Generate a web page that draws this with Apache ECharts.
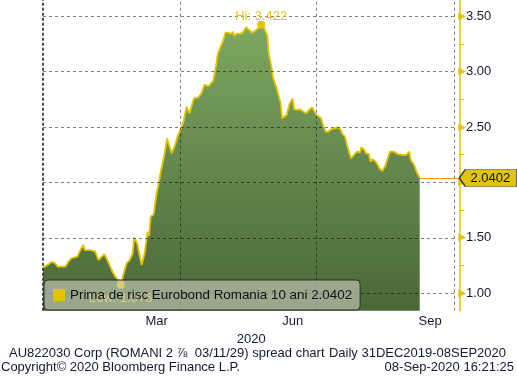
<!DOCTYPE html>
<html>
<head>
<meta charset="utf-8">
<script src="https://cdn.jsdelivr.net/npm/echarts@6/dist/echarts.min.js"></script>
<style>
  html, body { margin: 0; padding: 0; background: #fff; }
  #chart { width: 517px; height: 377px; }
</style>
</head>
<body>
<div id="chart"></div>
<script>
// daily spread
var dates = ['2019-12-31','2020-01-04','2020-01-06','2020-01-08','2020-01-10','2020-01-15','2020-01-17','2020-01-19',
  '2020-01-23','2020-01-25','2020-01-27','2020-01-28','2020-02-01','2020-02-04','2020-02-06','2020-02-07','2020-02-10',
  '2020-02-12','2020-02-15','2020-02-17','2020-02-19','2020-02-21','2020-02-23','2020-02-25','2020-02-27','2020-02-29',
  '2020-03-01','2020-03-03','2020-03-05','2020-03-06','2020-03-08','2020-03-10','2020-03-11','2020-03-12','2020-03-14',
  '2020-03-16','2020-03-17','2020-03-19','2020-03-21','2020-03-23','2020-03-26','2020-03-28','2020-03-30','2020-04-01',
  '2020-04-03','2020-04-05','2020-04-07','2020-04-10','2020-04-13','2020-04-15','2020-04-17','2020-04-20','2020-04-23',
  '2020-04-25','2020-04-26','2020-04-27','2020-04-29','2020-04-30','2020-05-01','2020-05-03','2020-05-05','2020-05-06',
  '2020-05-07','2020-05-09','2020-05-11','2020-05-13','2020-05-15','2020-05-17','2020-05-19','2020-05-21','2020-05-23',
  '2020-05-25','2020-05-27','2020-05-29','2020-05-30','2020-06-01','2020-06-02','2020-06-04','2020-06-07','2020-06-08',
  '2020-06-09','2020-06-11','2020-06-13','2020-06-15','2020-06-16','2020-06-18','2020-06-20','2020-06-22','2020-06-24',
  '2020-06-26','2020-06-28','2020-06-29','2020-07-01','2020-07-04','2020-07-05','2020-07-07','2020-07-09','2020-07-11',
  '2020-07-13','2020-07-15','2020-07-17','2020-07-18','2020-07-20','2020-07-22','2020-07-24','2020-07-26','2020-07-28',
  '2020-07-30','2020-07-31','2020-08-02','2020-08-03','2020-08-05','2020-08-06','2020-08-07','2020-08-09','2020-08-11',
  '2020-08-12','2020-08-14','2020-08-16','2020-08-18','2020-08-19','2020-08-22','2020-08-24','2020-08-25','2020-08-28',
  '2020-08-30','2020-09-01','2020-09-02','2020-09-04','2020-09-06','2020-09-07','2020-09-08'];
var spread = [1.231,1.264,1.285,1.271,1.240,1.240,1.285,1.316,
  1.330,1.390,1.436,1.390,1.390,1.375,1.300,1.285,1.352,
  1.300,1.210,1.156,1.125,1.076,1.180,1.271,1.300,1.361,
  1.505,1.451,1.316,1.255,1.361,1.555,1.517,1.690,1.710,
  1.902,1.961,2.112,2.232,2.398,2.262,2.322,2.412,2.473,
  2.547,2.683,2.623,2.758,2.767,2.803,2.880,2.869,2.920,
  3.074,3.164,3.179,3.260,3.299,3.350,3.350,3.338,3.359,
  3.320,3.344,3.338,3.359,3.399,3.374,3.350,3.368,3.390,
  3.422,3.390,3.329,3.164,3.029,2.939,2.863,2.713,2.578,
  2.569,2.608,2.713,2.758,2.660,2.653,2.659,2.638,2.623,
  2.653,2.677,2.668,2.608,2.578,2.533,2.457,2.457,2.481,
  2.488,2.497,2.479,2.443,2.412,2.307,2.217,2.247,2.277,
  2.268,2.317,2.292,2.262,2.256,2.187,2.208,2.196,2.157,
  2.127,2.103,2.148,2.232,2.277,2.277,2.256,2.238,2.247,
  2.247,2.277,2.202,2.166,2.096,2.067,2.0402];

var seriesName = 'Prima de risc Eurobond Romania 10 ani';
var yLabels = [1.00, 1.50, 2.00, 2.50, 3.00, 3.50];
var yMinorTicks = [1.25, 1.75, 2.25, 2.75, 3.25];
var monthLabelDates = ['2020-03-16', '2020-06-15', '2020-09-15'];
var monthLabels = ['Mar', 'Jun', 'Sep'];
var quarterDates = ['2019-12-31', '2020-04-01', '2020-07-01', '2020-10-01'];
var axisStart = '2019-12-31';
var axisEnd = '2020-10-05';

function dayNum(s) {
    var p = s.split('-');
    var a = axisStart.split('-');
    return (Date.UTC(+p[0], +p[1] - 1, +p[2]) - Date.UTC(+a[0], +a[1] - 1, +a[2])) / 86400000;
}

var points = dates.map(function (d, i) { return [dayNum(d), spread[i]]; });
var lastPoint = points[points.length - 1];
var labelDays = monthLabelDates.map(dayNum);
var quarterDays = quarterDates.map(dayNum);
var xMax = dayNum(axisEnd) - 0.5;
var yMin = 0.843, yMax = 3.645;

var YELLOW = '#e3c200';
var TEXT = '#141a33';
var FONT = '"Liberation Sans", Arial, sans-serif';

var gridStyle = {color: 'rgba(0,0,0,0.5)', type: [3, 3], width: 1};
var borderStyle = {color: 'rgba(60,60,60,0.9)', type: [3, 2], width: 2};
var lastStyle = {color: '#f09a00', type: 'solid', width: 1.2};

var gridLines = [];
yLabels.forEach(function (v) {
    gridLines.push([{coord: [0, v], lineStyle: gridStyle}, {coord: [quarterDays[quarterDays.length - 1], v], lineStyle: gridStyle}]);
});
quarterDays.forEach(function (d, i) {
    var st = i === 0 ? borderStyle : gridStyle;
    gridLines.push([{coord: [d, yMin], lineStyle: st}, {coord: [d, yMax], lineStyle: st}]);
});
// current value line
gridLines.push([
    {coord: [lastPoint[0], lastPoint[1]], lineStyle: lastStyle},
    {coord: [xMax, lastPoint[1]], lineStyle: lastStyle}
]);

var myChart = echarts.init(document.getElementById('chart'), null, {renderer: 'canvas'});

var option = {
    backgroundColor: '#fff',
    animation: false,
    textStyle: {fontFamily: FONT},
    grid: {left: 43, right: 57.7, top: 0, bottom: 66.3},
    legend: {
        left: 44, top: 280,
        z: 10,
        padding: [7, 8, 7, 9],
        backgroundColor: 'rgba(205,210,196,0.6)',
        borderColor: '#2b2b2b', borderWidth: 1, borderRadius: 4,
        itemWidth: 12, itemHeight: 12,
        icon: 'rect',
        data: [{name: seriesName, itemStyle: {color: YELLOW}}],
        formatter: function (name) { return name + ' ' + lastPoint[1].toFixed(4); },
        textStyle: {fontFamily: FONT, fontSize: 13.4, color: '#111', lineHeight: 16}
    },
    xAxis: {
        type: 'value', min: 0, max: xMax,
        name: '2020', nameLocation: 'middle', nameGap: 18,
        nameTextStyle: {fontFamily: FONT, fontSize: 13, color: TEXT},
        axisLine: {show: false, onZero: false}, axisTick: {show: false}, splitLine: {show: false},
        axisLabel: {
            customValues: labelDays, margin: 4,
            fontFamily: FONT, fontSize: 13, color: TEXT,
            formatter: function (v) { return monthLabels[labelDays.indexOf(v)] || ''; }
        }
    },
    yAxis: {
        type: 'value', position: 'right', min: yMin, max: yMax,
        axisLine: {show: true, onZero: false, lineStyle: {color: YELLOW, width: 1.5}},
        axisTick: {show: true, customValues: yMinorTicks, length: 5, lineStyle: {color: YELLOW, width: 1}},
        splitLine: {show: false},
        axisLabel: {
            customValues: yLabels, margin: -1,
            formatter: function (v) { return '{a|\u25B6}{b|' + v.toFixed(2) + '}'; },
            rich: {
                a: {fontFamily: 'DejaVu Sans', fontSize: 10, color: YELLOW, padding: [0, 0, 0, 0]},
                b: {fontFamily: FONT, fontSize: 13, color: TEXT}
            }
        }
    },
    series: [{
        name: seriesName,
        type: 'line',
        data: points,
        color: YELLOW,
        showSymbol: false,
        lineStyle: {color: YELLOW, width: 1.8},
        areaStyle: {
            origin: 'start',
            opacity: 1,
            color: new echarts.graphic.LinearGradient(0, 0, 0, 1, [
                {offset: 0, color: '#7ea760'},
                {offset: 1, color: '#4a6838'}
            ])
        },
        markLine: {
            silent: true, symbol: 'none', animation: false,
            label: {show: false},
            lineStyle: gridStyle,
            data: gridLines
        },
        markPoint: {
            silent: true, animation: false,
            data: [
                {
                    type: 'max', valueDim: 'y', symbol: 'circle', symbolSize: 8,
                    itemStyle: {color: YELLOW},
                    label: {show: true, position: 'top', distance: 0, offset: [0, 2], formatter: function (p) { return 'Hi: ' + p.value.toFixed(3); },
                        fontFamily: FONT, fontSize: 13, color: '#e4c030'}
                },
                {
                    type: 'min', valueDim: 'y', symbol: 'circle', symbolSize: 8,
                    itemStyle: {color: YELLOW},
                    label: {show: true, position: 'bottom', distance: 3, formatter: function (p) { return 'Low: ' + p.value.toFixed(3); },
                        fontFamily: FONT, fontSize: 13, color: '#e4c030'}
                },
                {
                    coord: [xMax, lastPoint[1]],
                    symbol: 'path://M0,8 L6,0 L58,0 L58,16 L6,16 Z',
                    symbolSize: [58, 17], symbolOffset: [29, 0], symbolKeepAspect: false,
                    itemStyle: {color: '#e0c114', borderColor: '#3a3a3a', borderWidth: 1},
                    label: {show: true, position: 'inside', offset: [2, 0], formatter: lastPoint[1].toFixed(4),
                        fontFamily: FONT, fontSize: 13, color: '#111'}
                }
            ]
        }
    }],
    graphic: [
        {type: 'text', left: 9, top: 347, style: {text: 'AU822030 Corp (ROMANI 2 \u215E  03/11/29) spread chart', font: '13px ' + FONT, fill: TEXT}},
        {type: 'text', right: 11, top: 347, style: {text: 'Daily 31DEC2019-08SEP2020', font: '13px ' + FONT, fill: TEXT}},
        {type: 'text', left: 1, top: 361, style: {text: 'Copyright\u00A9 2020 Bloomberg Finance L.P.', font: '13px ' + FONT, fill: TEXT}},
        {type: 'text', right: 3, top: 361, style: {text: '08-Sep-2020 16:21:25', font: '13px ' + FONT, fill: TEXT}}
    ]
};

myChart.setOption(option);
</script>
</body>
</html>
